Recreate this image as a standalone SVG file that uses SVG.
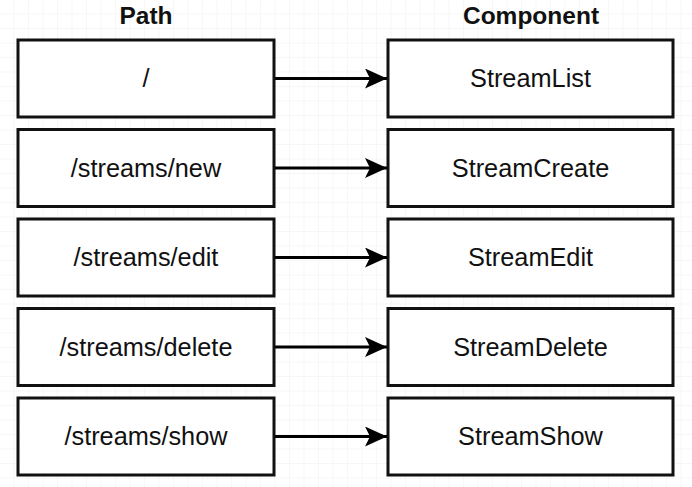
<svg xmlns="http://www.w3.org/2000/svg" width="692" height="487" viewBox="0 0 692 487">
<defs>
<pattern id="grid" width="14.5" height="14.5" patternUnits="userSpaceOnUse">
<path d="M14.5 0 V14.5 M0 14.5 H14.5" fill="none" stroke="#efefef" stroke-width="1"/>
</pattern>
<marker id="arr" markerWidth="24" markerHeight="20" refX="22" refY="10" orient="auto" markerUnits="userSpaceOnUse">
<path d="M0 0 L22 10 L0 20 L5 10 Z" fill="#000"/>
</marker>
<style>
.box{fill:#fff;stroke:#111;stroke-width:3}
.lbl{font-family:"Liberation Sans",Arial,sans-serif;font-size:25.3px;fill:#111;text-anchor:middle}
.hdr{font-family:"Liberation Sans",Arial,sans-serif;font-size:24.5px;font-weight:bold;fill:#111;text-anchor:middle}
.con{stroke:#000;stroke-width:3;fill:none}
</style>
</defs>
<rect width="692" height="487" fill="#fff"/>
<rect width="692" height="487" fill="url(#grid)"/>
<text class="hdr" x="146" y="24">Path</text>
<text class="hdr" x="531" y="24">Component</text>
<g id="connectors">
<line class="con" x1="274" y1="78.5" x2="387" y2="78.5" marker-end="url(#arr)"/>
<line class="con" x1="274" y1="168" x2="387" y2="168" marker-end="url(#arr)"/>
<line class="con" x1="274" y1="257.5" x2="387" y2="257.5" marker-end="url(#arr)"/>
<line class="con" x1="274" y1="347" x2="387" y2="347" marker-end="url(#arr)"/>
<line class="con" x1="274" y1="436.5" x2="387" y2="436.5" marker-end="url(#arr)"/>
</g>
<g id="path-root"><rect class="box" x="18" y="40" width="256" height="77"/><text class="lbl" x="146" y="87">/</text></g>
<g id="path-new"><rect class="box" x="18" y="129.5" width="256" height="77"/><text class="lbl" x="146" y="176.5">/streams/new</text></g>
<g id="path-edit"><rect class="box" x="18" y="219" width="256" height="77"/><text class="lbl" x="146" y="266">/streams/edit</text></g>
<g id="path-delete"><rect class="box" x="18" y="308.5" width="256" height="77"/><text class="lbl" x="146" y="355.5">/streams/delete</text></g>
<g id="path-show"><rect class="box" x="18" y="398" width="256" height="77"/><text class="lbl" x="146" y="445">/streams/show</text></g>
<g id="comp-list"><rect class="box" x="388" y="40" width="285" height="77"/><text class="lbl" x="530.5" y="87">StreamList</text></g>
<g id="comp-create"><rect class="box" x="388" y="129.5" width="285" height="77"/><text class="lbl" x="530.5" y="176.5">StreamCreate</text></g>
<g id="comp-edit"><rect class="box" x="388" y="219" width="285" height="77"/><text class="lbl" x="530.5" y="266">StreamEdit</text></g>
<g id="comp-delete"><rect class="box" x="388" y="308.5" width="285" height="77"/><text class="lbl" x="530.5" y="355.5">StreamDelete</text></g>
<g id="comp-show"><rect class="box" x="388" y="398" width="285" height="77"/><text class="lbl" x="530.5" y="445">StreamShow</text></g>
</svg>
